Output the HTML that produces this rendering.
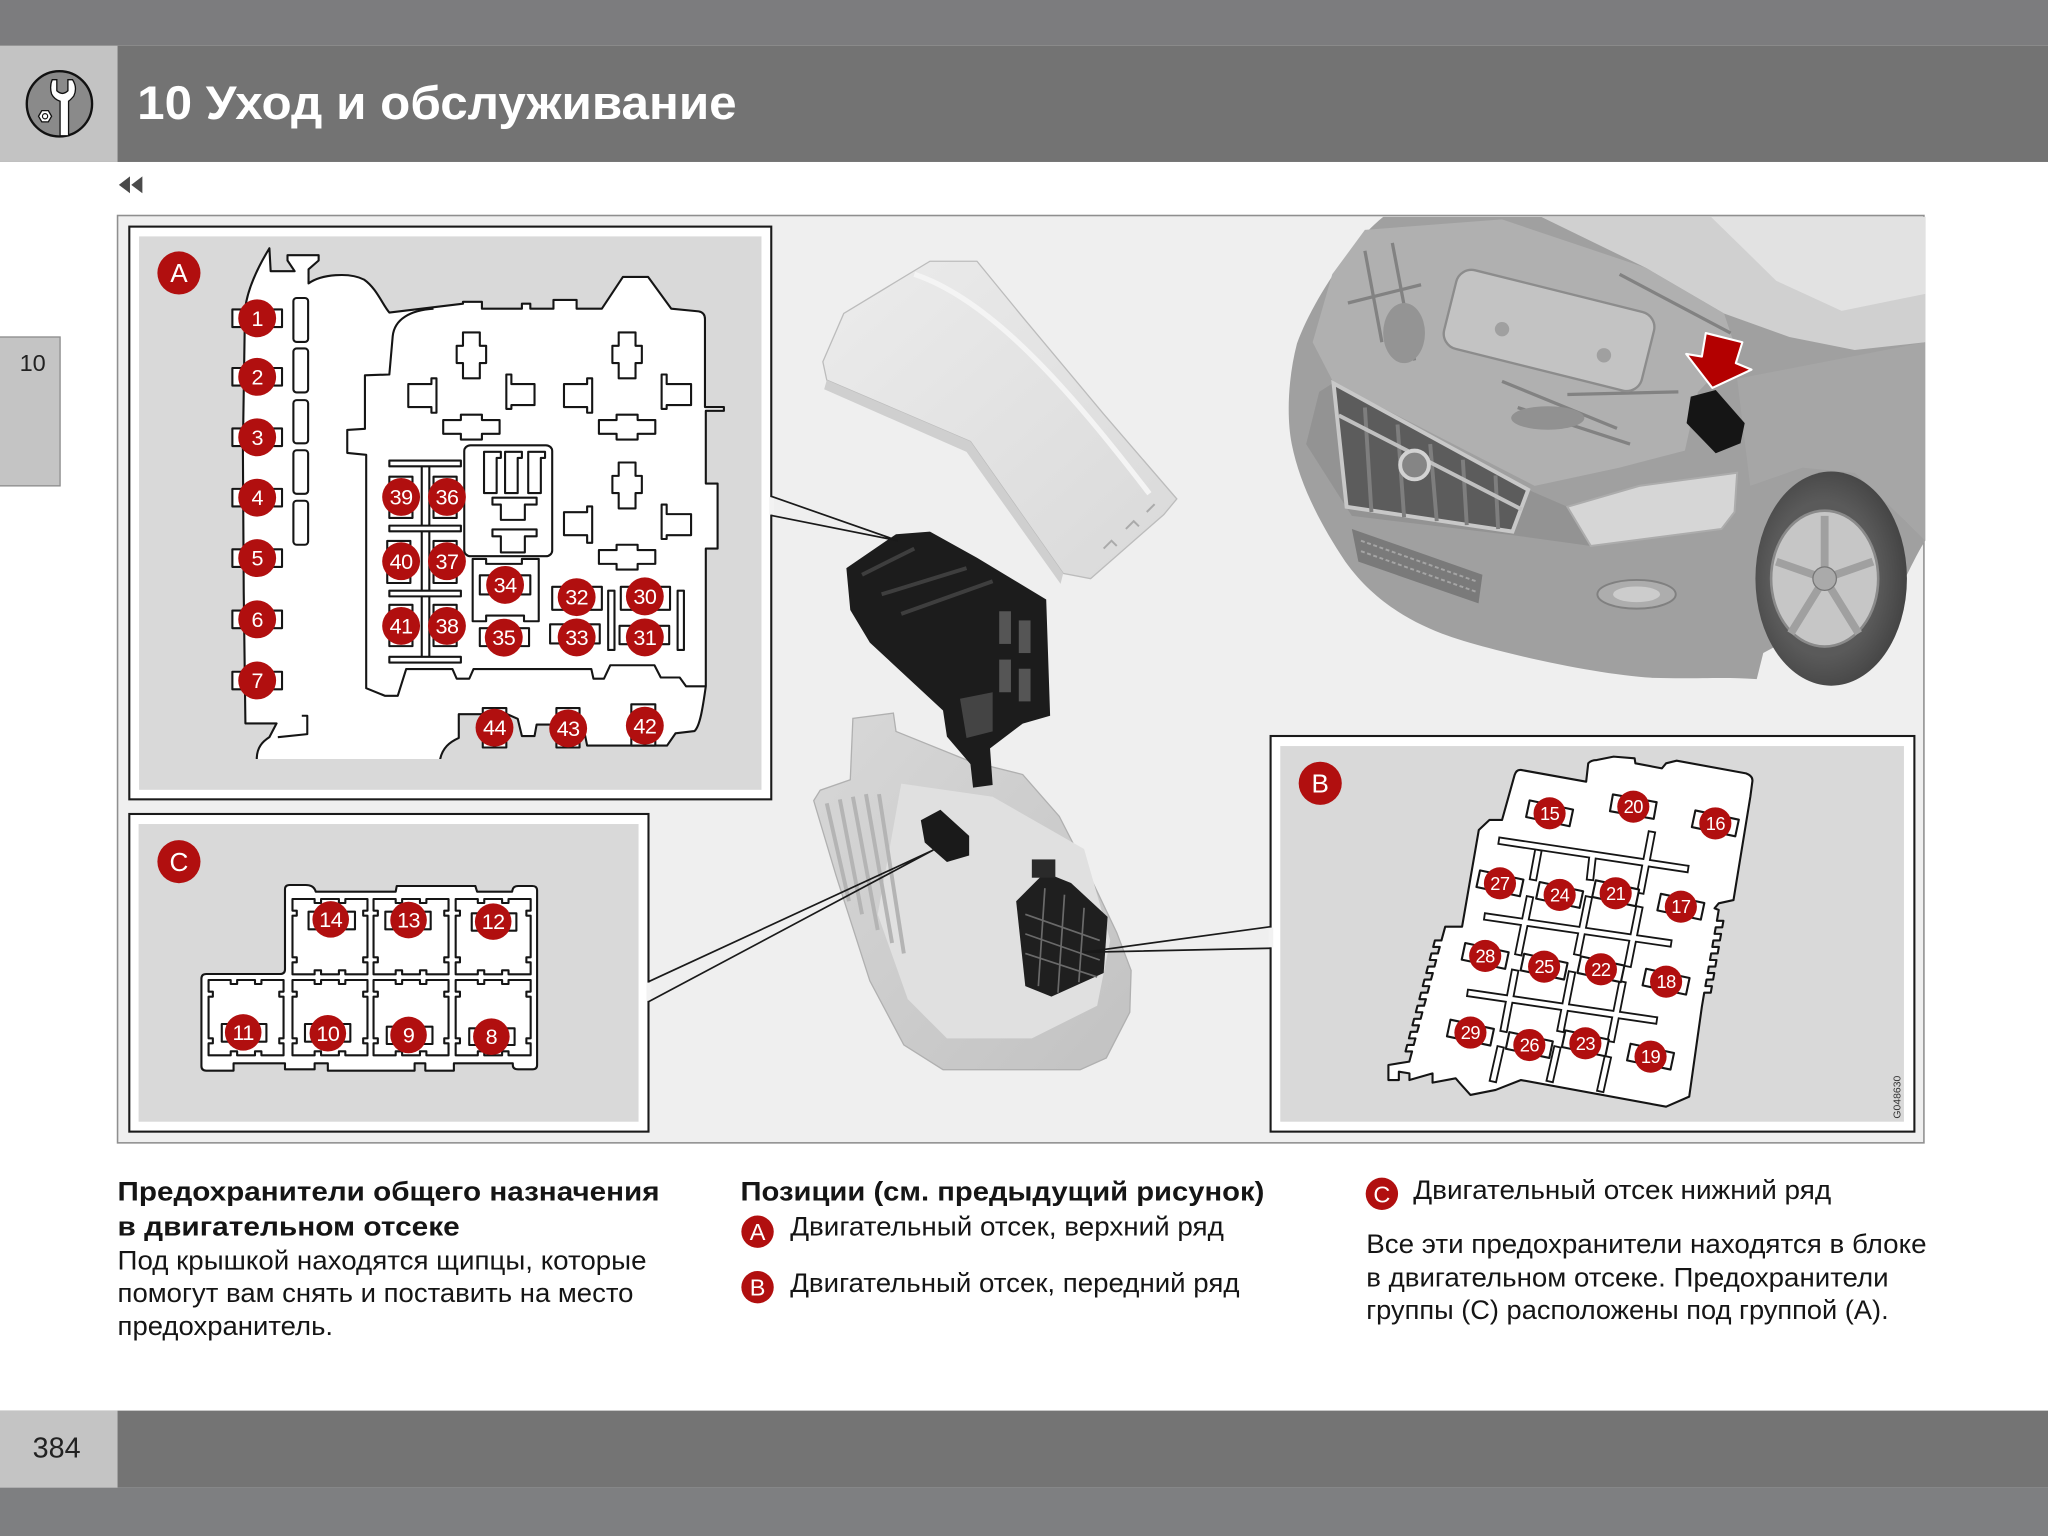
<!DOCTYPE html>
<html><head><meta charset="utf-8">
<style>
html,body{margin:0;padding:0;background:#fff;}
svg{display:block}
.o{fill:#fff;stroke:#151515;stroke-width:2.1;vector-effect:non-scaling-stroke;stroke-linejoin:round}
.l{fill:none;stroke:#151515;stroke-width:2.1;vector-effect:non-scaling-stroke;stroke-linejoin:round}
.rc{fill:#b10f0f}
.n{fill:#fff;font-family:"Liberation Sans",Arial,sans-serif;font-size:16.5px;text-anchor:middle;letter-spacing:-0.4px}
.nb{fill:#fff;font-family:"Liberation Sans",Arial,sans-serif;font-size:14px;text-anchor:middle;letter-spacing:-0.4px}
.L{fill:#fff;font-family:"Liberation Sans",Arial,sans-serif;font-size:20px;text-anchor:middle}
.t{fill:#151515;font-family:"Liberation Sans",Arial,sans-serif;font-size:20.5px}
.tb{fill:#151515;font-family:"Liberation Sans",Arial,sans-serif;font-size:20.5px;font-weight:bold}
.cn{fill:none;stroke:#1a1a1a;stroke-width:1.3}
</style></head><body>
<svg width="2048" height="1536" viewBox="0 0 1568 1176" xmlns="http://www.w3.org/2000/svg">
<defs>
<clipPath id="cA" clipPathUnits="userSpaceOnUse"><rect x="0" y="0" width="2000" height="1435"/></clipPath>
<path id="cell" class="o" d="M0,0 H62 V12 H80 V0 H130 V12 H148 V0 H210 V35 H198 V50 H210 V175 H198 V190 H210 V226 H148 V214 H130 V226 H80 V214 H62 V226 H0 V190 H12 V175 H0 V50 H12 V35 H0 Z"/>
<linearGradient id="gcov" x1="0" y1="0" x2="1" y2="1"><stop offset="0" stop-color="#ececec"/><stop offset="1" stop-color="#d9d9d9"/></linearGradient>
<linearGradient id="gbox" x1="0" y1="0" x2="1" y2="1"><stop offset="0" stop-color="#d8d8d8"/><stop offset="1" stop-color="#c2c2c2"/></linearGradient>
<radialGradient id="gtire" cx="0.45" cy="0.5" r="0.6"><stop offset="0.6" stop-color="#5a5a5a"/><stop offset="1" stop-color="#3e3e3e"/></radialGradient>
</defs>

<rect x="0" y="0" width="1568" height="1176" fill="#fff"/>

<!-- header -->
<rect x="0" y="0" width="1568" height="35" fill="#7c7c7e"/>
<rect x="0" y="35" width="1568" height="89" fill="#737373"/>
<rect x="0" y="35" width="90" height="89" fill="#c3c3c3"/>
<circle cx="45.5" cy="79.5" r="25" fill="#8a8a8a" stroke="#111" stroke-width="1.8"/>
<path d="M40,61 L43.5,61 L43.5,69.5 Q47.8,73.5 52,69.5 L52,61 L55.5,61 Q59.5,67 56.5,73.5 Q54,76.5 52.5,77.5 L52.5,104 L46,104 L46,77.5 Q41.5,76 39.5,72 Q37.8,66 40,61 Z" fill="#fff" stroke="#111" stroke-width="1"/>
<polygon points="29.5,89 32,84.7 37,84.7 39.5,89 37,93.3 32,93.3" fill="#fff" stroke="#111" stroke-width="1"/>
<circle cx="34.5" cy="89" r="2" fill="none" stroke="#111" stroke-width="0.9"/>
<text x="105" y="91" fill="#fff" font-family="Liberation Sans, Arial, sans-serif" font-size="36" font-weight="bold" textLength="459" lengthAdjust="spacingAndGlyphs">10 Уход и обслуживание</text>

<polygon points="91,141.5 99.5,135 99.5,148" fill="#4a4a4a"/>
<polygon points="100.5,141.5 109,135 109,148" fill="#4a4a4a"/>

<rect x="-2" y="258" width="48" height="114" fill="#c4c4c4" stroke="#8c8c8c" stroke-width="1"/>
<text x="15" y="284" fill="#222" font-family="Liberation Sans, Arial, sans-serif" font-size="18">10</text>

<rect x="90" y="165" width="1383" height="710" fill="#efefef" stroke="#8f8f8f" stroke-width="1.2"/>

<!-- ================= CAR ================= -->
<g>
<path d="M1059,166 C1035,185 1005,230 993,263 C986,290 985,320 989,340 C995,370 1010,400 1030,430 C1055,465 1090,482 1125,492 C1170,505 1230,517 1266,519 C1300,520 1320,518 1345,520 L1350,500 L1460,440 C1466,428 1470,420 1474,414 L1474,166 Z" fill="#a0a0a0"/>
<polygon points="1180,166 1474,166 1474,262 1420,268 1370,258 1320,240 1260,205" fill="#d0d0d0"/>
<polygon points="1310,166 1474,166 1474,225 1410,238 1360,215" fill="#e2e2e2"/>
<polygon points="1045,176 1150,168 1260,205 1320,240 1330,270 1300,300 1290,345 1240,358 1175,372 1021,293 1005,262 1020,210" fill="#b0b0b0"/>
<path d="M1045,192 L1058,262 M1066,186 L1083,276 M1032,232 L1088,218 M1150,292 L1238,328 M1162,312 L1248,340 M1200,302 L1285,300 M1240,210 L1325,255" stroke="#828282" stroke-width="2.5" fill="none"/>
<ellipse cx="1075" cy="255" rx="16" ry="23" fill="#949494"/>
<ellipse cx="1185" cy="320" rx="28" ry="9" fill="#919191"/>
<rect x="1108" y="222" width="156" height="62" rx="12" transform="rotate(14 1186 253)" fill="#c3c3c3" stroke="#8c8c8c" stroke-width="1.8"/>
<circle cx="1150" cy="252" r="5.5" fill="#a0a0a0"/>
<circle cx="1228" cy="272" r="5.5" fill="#a0a0a0"/>
<polygon points="1330,290 1474,262 1474,414 1460,400 1420,362 1380,358 1340,372" fill="#a6a6a6"/>
<polygon points="1010,300 1021,293 1170,375 1200,388 1218,418 1160,410 1035,395 1000,340" fill="#939393"/>
<polygon points="1021,293.5 1170,375 1158,407 1031,388" fill="#5c5c5c" stroke="#c8c8c8" stroke-width="3"/>
<path d="M1045,312 L1050,392 M1070,325 L1075,396 M1095,340 L1100,399 M1120,352 L1123,402 M1145,364 L1147,405" stroke="#7e7e7e" stroke-width="3"/>
<path d="M1025,318 L1165,390" stroke="#c0c0c0" stroke-width="3"/>
<circle cx="1083" cy="356" r="11" fill="#858585" stroke="#d2d2d2" stroke-width="3"/>
<polygon points="1200,388 1255,372 1330,362 1328,392 1318,405 1218,418" fill="#d6d6d6" stroke="#acacac" stroke-width="1.5"/>
<polygon points="1035,405 1135,440 1132,462 1040,430" fill="#7a7a7a"/>
<path d="M1042,414 L1130,445 M1042,422 L1130,453" stroke="#a5a5a5" stroke-width="1.5" stroke-dasharray="3 2"/>
<ellipse cx="1253" cy="455" rx="30" ry="11" fill="#adadad" stroke="#808080" stroke-width="1.5"/>
<ellipse cx="1253" cy="455" rx="18" ry="6" fill="#cccccc"/>
<ellipse cx="1402" cy="443" rx="58" ry="82" fill="url(#gtire)"/>
<ellipse cx="1397" cy="443" rx="41" ry="52" fill="#c6c6c6" stroke="#8a8a8a" stroke-width="2"/>
<path d="M1397,443 L1397,395 M1397,443 L1434,430 M1397,443 L1423,485 M1397,443 L1371,485 M1397,443 L1360,430" stroke="#a0a0a0" stroke-width="6"/>
<circle cx="1397" cy="443" r="9" fill="#aaa" stroke="#777" stroke-width="1"/>
<polygon points="1294.5,303.7 1313.6,298.6 1335.8,324 1332.6,339.4 1313.6,347 1291.3,324" fill="#151515"/>
<polygon points="1306,255 1334,262 1329,278 1341,283 1311,297 1291,271 1303,273" fill="#b30000" stroke="#fff" stroke-width="1.6" stroke-linejoin="round"/>
</g>

<!-- ================= CENTER FUSE BOX ================= -->
<g>
<polygon points="630,277 646,240 712,200 748,200 784,244 845,317 901,382 891,394 835,443 814,439 743,338 633,291" fill="url(#gcov)" stroke="#bcbcbc" stroke-width="1"/>
<polygon points="633,291 743,338 814,439 812,447 740,346 631,298" fill="#cfcfcf"/>
<path d="M700,210 C760,230 820,300 880,378" stroke="#f4f4f4" stroke-width="4" fill="none"/>
<path d="M845,420 l6,-6 l4,4 M862,405 l6,-6 l4,4 M878,392 l6,-6" stroke="#aaa" stroke-width="1.5" fill="none"/>
<polygon points="653,550 684,546 686,560 743,583 783,593 811,625 834,670 855,714 866,743 865,775 847,810 827,819 722,819 692,800 666,751 640,670 623,613 628,605 651,597" fill="url(#gbox)" stroke="#b0b0b0" stroke-width="1"/>
<polygon points="690,600 760,610 830,650 850,720 840,770 790,795 725,795 695,765 672,700" fill="#e0e0e0"/>
<path d="M633,615 L650,690 M643,612 L660,700 M653,610 L672,712 M663,608 L683,722 M673,608 L692,730" stroke="#b4b4b4" stroke-width="3" fill="none"/>
<polygon points="778,690 800,668 820,676 848,702 845,745 805,763 785,755" fill="#1f1f1f"/>
<path d="M785,700 L842,720 M785,715 L842,735 M785,730 L840,748 M800,680 L795,755 M815,685 L810,760 M830,695 L826,752" stroke="#6a6a6a" stroke-width="1.3" fill="none"/>
<rect x="790" y="658" width="18" height="14" fill="#2a2a2a"/>
<polygon points="705,628 720,620 742,640 742,655 725,660 708,645" fill="#1a1a1a"/>
<polygon points="648,435 686,409 712,407 748,427 801,459 804,548 783,554 758,573 760,601 745,603 743,585 725,564 722,544 666,492 651,467" fill="#1c1c1c"/>
<path d="M660,440 L700,420 M675,455 L740,435 M690,470 L760,445" stroke="#3e3e3e" stroke-width="3" fill="none"/>
<rect x="765" y="468" width="9" height="25" fill="#555"/><rect x="780" y="475" width="9" height="25" fill="#555"/><rect x="765" y="505" width="9" height="25" fill="#555"/><rect x="780" y="512" width="9" height="25" fill="#555"/>
<polygon points="735,535 760,530 760,560 740,565" fill="#444"/>
</g>

<!-- ================= PANEL A ================= -->
<rect x="99" y="173.5" width="491.5" height="438.5" fill="#fff" stroke="#1a1a1a" stroke-width="1.6"/>
<rect x="106.5" y="181" width="476.5" height="423.7" fill="#d9d9d9"/>
<g transform="matrix(0.3222 0 0 0.2929 91.88 160.78)">
<path class="o" clip-path="url(#cA)" d="M325,1500 L325,1432 C326,1405 338,1390 355,1378 L372,1342 L298,1342 L294,1000 L292,620 L297,260 C303,205 330,145 355,100 L358,160 L415,160 L398,132 L398,118 L472,118 L472,132 L448,155 L448,192 C478,168 545,162 580,182 C610,205 625,250 640,268 L815,245 L815,240 L860,240 L860,258 L955,258 L955,245 L975,245 L975,258 L1030,258 L1030,235 L1085,235 L1085,258 L1145,258 L1195,175 L1255,175 L1310,258 L1375,265 Q1390,268 1390,285 L1390,515 L1435,515 L1435,525 L1392,525 L1392,715 L1420,715 L1420,885 L1392,885 L1392,1245 C1385,1300 1378,1350 1365,1362 L1320,1368 L1300,1400 L1110,1400 L1100,1345 L990,1345 L985,1375 L955,1375 L945,1330 L920,1318 L805,1318 L805,1380 C785,1390 765,1405 760,1440 L760,1500 Z"/>
<path class="l" d="M745,258 C690,262 652,285 648,330 L640,430 L582,432 L582,572 L540,575 L540,635 L585,640 L585,1250 L630,1270 L660,1270 L680,1200 L790,1200 L800,1225 L830,1225 L840,1200 L1120,1200 L1125,1225 L1150,1225 L1165,1190 L1270,1190 L1285,1222 L1330,1222 L1345,1245 L1392,1245"/>
<path class="l" d="M432,1322 H445 V1370 L375,1378"/>
<rect class="o" x="412" y="230" width="35" height="115" rx="8"/>
<rect class="o" x="412" y="362" width="35" height="115" rx="8"/>
<rect class="o" x="412" y="497" width="35" height="113" rx="8"/>
<rect class="o" x="412" y="628" width="35" height="114" rx="8"/>
<rect class="o" x="412" y="760" width="35" height="115" rx="8"/>
<path class="o" d="M815,320 H855 V355 H870 V400 H855 V440 H815 V400 H800 V355 H815 Z"/>
<path class="o" d="M1185,320 H1225 V355 H1240 V400 H1225 V440 H1185 V400 H1170 V355 H1185 Z"/>
<path class="o" d="M1185,660 H1225 V695 H1240 V740 H1225 V780 H1185 V740 H1170 V695 H1185 Z"/>
<path class="o" d="M768,549 H810 V535 H860 V549 H902 V585 H860 V600 H810 V585 H768 Z"/>
<path class="o" d="M1138,549 H1180 V535 H1230 V549 H1272 V585 H1230 V600 H1180 V585 H1138 Z"/>
<path class="o" d="M1138,889 H1180 V875 H1230 V889 H1272 V925 H1230 V940 H1180 V925 H1138 Z"/>
<path class="o" d="M685,455 H740 V440 H752 V530 H740 V515 H685 Z"/>
<path class="o" d="M1055,455 H1110 V440 H1122 V530 H1110 V515 H1055 Z"/>
<path class="o" d="M1055,790 H1110 V775 H1122 V870 H1110 V850 H1055 Z"/>
<path class="o" d="M918,430 H930 V455 H985 V510 H930 V520 H918 Z"/>
<path class="o" d="M1287,430 H1299 V455 H1357 V510 H1299 V520 H1287 Z"/>
<path class="o" d="M1287,770 H1299 V795 H1357 V850 H1299 V860 H1287 Z"/>
<rect class="o" x="818" y="615" width="209" height="290" rx="15"/>
<path class="o" d="M865,632 H905 V648 H895 V740 H865 Z"/>
<path class="o" d="M915,632 H955 V648 H945 V740 H915 Z"/>
<path class="o" d="M970,632 H1010 V648 H1000 V740 H970 Z"/>
<path class="o" d="M885,752 H990 V770 H962 V810 H905 V770 H885 Z"/>
<path class="o" d="M885,835 H990 V853 H962 V895 H905 V853 H885 Z"/>
<rect class="o" x="717" y="662" width="18" height="515"/>
<rect class="o" x="640" y="655" width="170" height="15"/>
<rect class="o" x="640" y="825" width="170" height="15"/>
<rect class="o" x="640" y="995" width="170" height="15"/>
<rect class="o" x="640" y="1168" width="170" height="15"/>
<rect class="o" x="640" y="697" width="55" height="108"/>
<rect class="o" x="745" y="697" width="55" height="108"/>
<rect class="o" x="635" y="865" width="55" height="110"/>
<rect class="o" x="745" y="865" width="55" height="110"/>
<rect class="o" x="640" y="1032" width="55" height="108"/>
<rect class="o" x="745" y="1032" width="55" height="108"/>
<path class="o" d="M838,912 H870 V925 H955 V912 H995 V1075 H960 V1060 H870 V1075 H838 Z"/>
<rect class="o" x="855" y="955" width="120" height="50"/>
<rect class="o" x="855" y="1093" width="117" height="47"/>
<rect class="o" x="1027" y="985" width="118" height="60"/>
<rect class="o" x="1022" y="1083" width="118" height="50"/>
<rect class="o" x="1190" y="985" width="117" height="60"/>
<rect class="o" x="1187" y="1087" width="118" height="48"/>
<rect class="o" x="1160" y="995" width="15" height="155"/>
<rect class="o" x="1325" y="995" width="15" height="155"/>
<rect class="o" x="862" y="1302" width="56" height="103"/>
<rect class="o" x="1037" y="1302" width="55" height="103"/>
<rect class="o" x="1215" y="1292" width="57" height="108"/>
<rect class="o" x="267" y="260" width="118" height="46"/>
<rect class="o" x="267" y="413" width="118" height="46"/>
<rect class="o" x="267" y="571" width="118" height="46"/>
<rect class="o" x="267" y="729" width="118" height="46"/>
<rect class="o" x="267" y="887" width="118" height="46"/>
<rect class="o" x="267" y="1047" width="118" height="46"/>
<rect class="o" x="267" y="1207" width="118" height="46"/>
</g>
<g>
<circle class="rc" cx="137" cy="209" r="16.5"/><text class="L" x="137" y="216">A</text>
<circle class="rc" cx="196.9" cy="243.7" r="14.5"/><text class="n" x="196.9" y="249.5">1</text>
<circle class="rc" cx="196.9" cy="288.5" r="14.5"/><text class="n" x="196.9" y="294.3">2</text>
<circle class="rc" cx="196.9" cy="334.8" r="14.5"/><text class="n" x="196.9" y="340.6">3</text>
<circle class="rc" cx="196.9" cy="381" r="14.5"/><text class="n" x="196.9" y="386.8">4</text>
<circle class="rc" cx="196.9" cy="427.3" r="14.5"/><text class="n" x="196.9" y="433.1">5</text>
<circle class="rc" cx="196.9" cy="474.2" r="14.5"/><text class="n" x="196.9" y="480">6</text>
<circle class="rc" cx="196.9" cy="521" r="14.5"/><text class="n" x="196.9" y="526.8">7</text>
<circle class="rc" cx="307.1" cy="380.5" r="14.5"/><text class="n" x="307.1" y="386.3">39</text>
<circle class="rc" cx="342.2" cy="380.5" r="14.5"/><text class="n" x="342.2" y="386.3">36</text>
<circle class="rc" cx="307.1" cy="429.7" r="14.5"/><text class="n" x="307.1" y="435.5">40</text>
<circle class="rc" cx="342.2" cy="429.7" r="14.5"/><text class="n" x="342.2" y="435.5">37</text>
<circle class="rc" cx="307.1" cy="479.2" r="14.5"/><text class="n" x="307.1" y="485">41</text>
<circle class="rc" cx="342.2" cy="479.2" r="14.5"/><text class="n" x="342.2" y="485">38</text>
<circle class="rc" cx="386.7" cy="447.8" r="14.5"/><text class="n" x="386.7" y="453.6">34</text>
<circle class="rc" cx="385.7" cy="488.2" r="14.5"/><text class="n" x="385.7" y="494">35</text>
<circle class="rc" cx="441.5" cy="457.2" r="14.5"/><text class="n" x="441.5" y="463">32</text>
<circle class="rc" cx="441.5" cy="488" r="14.5"/><text class="n" x="441.5" y="493.8">33</text>
<circle class="rc" cx="493.7" cy="456.6" r="14.5"/><text class="n" x="493.7" y="462.4">30</text>
<circle class="rc" cx="493.7" cy="488" r="14.5"/><text class="n" x="493.7" y="493.8">31</text>
<circle class="rc" cx="378.6" cy="557.1" r="14.5"/><text class="n" x="378.6" y="562.9">44</text>
<circle class="rc" cx="435" cy="557.7" r="14.5"/><text class="n" x="435" y="563.5">43</text>
<circle class="rc" cx="493.7" cy="555.6" r="14.5"/><text class="n" x="493.7" y="561.4">42</text>
</g>

<!-- ================= PANEL C ================= -->
<rect x="99" y="623.2" width="397.5" height="243.2" fill="#fff" stroke="#1a1a1a" stroke-width="1.6"/>
<rect x="106.1" y="630.9" width="382.8" height="227.9" fill="#d9d9d9"/>
<g transform="matrix(0.2734 0 0 0.2552 91.88 612.5)">
<path class="o" d="M475,255 L520,255 C535,255 545,262 548,275 L772,275 L775,258 L995,258 L1000,275 L1098,275 C1100,262 1105,258 1115,258 L1155,258 Q1168,258 1168,272 L1168,795 Q1168,808 1155,808 L1115,808 Q1100,808 1100,795 L1100,790 L935,790 L935,812 L855,812 L855,790 L825,790 L825,812 L582,812 L582,790 L545,790 L545,808 L462,808 L462,790 L318,790 L318,812 L242,812 Q228,812 228,798 L228,536 Q228,522 242,522 L448,522 Q462,522 462,508 L462,268 Q462,255 475,255 Z"/>
<use href="#cell" x="483" y="297"/>
<use href="#cell" x="710" y="297"/>
<use href="#cell" x="940" y="297"/>
<use href="#cell" x="248" y="540"/>
<use href="#cell" x="483" y="540"/>
<use href="#cell" x="710" y="540"/>
<use href="#cell" x="940" y="540"/>
<rect class="o" x="528" y="335" width="130" height="53"/>
<rect class="o" x="743" y="335" width="127" height="53"/>
<rect class="o" x="985" y="340" width="125" height="52"/>
<rect class="o" x="285" y="672" width="125" height="53"/>
<rect class="o" x="518" y="672" width="127" height="53"/>
<rect class="o" x="747" y="680" width="128" height="52"/>
<rect class="o" x="978" y="685" width="127" height="50"/>
</g>
<g>
<circle class="rc" cx="137" cy="659.7" r="16.5"/><text class="L" x="137" y="666.7">C</text>
<circle class="rc" cx="253.2" cy="703.9" r="14"/><text class="n" x="253.2" y="709.7">14</text>
<circle class="rc" cx="312.8" cy="704.4" r="14"/><text class="n" x="312.8" y="710.2">13</text>
<circle class="rc" cx="377.6" cy="705.6" r="14"/><text class="n" x="377.6" y="711.4">12</text>
<circle class="rc" cx="186.2" cy="790.4" r="14"/><text class="n" x="186.2" y="796.2">11</text>
<circle class="rc" cx="251" cy="791.1" r="14"/><text class="n" x="251" y="796.9">10</text>
<circle class="rc" cx="312.8" cy="792.4" r="14"/><text class="n" x="312.8" y="798.2">9</text>
<circle class="rc" cx="376.2" cy="793.7" r="14"/><text class="n" x="376.2" y="799.5">8</text>
</g>

<!-- ================= PANEL B ================= -->
<rect x="972.8" y="563.5" width="492.9" height="302.9" fill="#fff" stroke="#1a1a1a" stroke-width="1.6"/>
<rect x="980.2" y="571.2" width="477.5" height="287.6" fill="#d9d9d9"/>
<path class="o" d="M1159.6,593.4 Q1161,589 1164.5,589.5 L1214.4,598.5 L1216,584.4 Q1218,582 1222.5,581.9 L1235.4,579.3 L1251.5,580.6 L1252.1,584.4 L1272.4,588.3 L1275.6,584.4 L1283.7,582.4 L1336.8,592.1 Q1342,594 1341.7,598 L1340.1,610 L1327.2,689.1 L1315.9,691.6 L1312.7,695.4 L1315.9,696.7 L1314.5,705 L1319.5,705 L1318.6,710 L1313.6,710 L1312.7,715 L1317.7,715 L1316.8,720 L1311.8,720 L1311,725 L1316,725 L1315.1,730 L1310.1,730 L1309.2,735 L1314.2,735 L1313.3,740 L1308.3,740 L1307.5,745 L1312.5,745 L1311.6,750 L1306.6,750 L1305.7,755 L1310.7,755 L1309.8,760 L1304.8,760 L1303,770.7 L1293.3,839.6 L1275.6,847.3 L1164.5,826.9 L1145.1,834.5 L1125.8,838.3 L1117.8,829.4 L1114.5,825.6 L1096.8,828.9 L1096.8,821.8 L1079.1,826.9 L1079.1,821.8 L1071,820.5 L1071,826.9 L1063,826.9 L1063,815.4 L1079,812.8 L1081.1,805 L1076.1,805 L1077.4,800 L1082.4,800 L1083.7,795 L1078.7,795 L1080,790 L1085,790 L1086.4,785 L1081.4,785 L1082.7,780 L1087.7,780 L1089,775 L1084,775 L1085.3,770 L1090.3,770 L1091.7,765 L1086.7,765 L1088,760 L1093,760 L1094.3,755 L1089.3,755 L1090.6,750 L1095.6,750 L1097,745 L1092,745 L1093.3,740 L1098.3,740 L1099.6,735 L1094.6,735 L1095.9,730 L1100.9,730 L1102.3,725 L1097.3,725 L1098.6,720 L1103.6,720 L1106.5,709.5 L1119.4,709.5 L1132.2,635.5 L1140.3,627.8 L1150,627.8 Z"/>
<g stroke="#151515" stroke-width="6.4" stroke-linecap="square" fill="none">
<path d="M1150,644 L1290,665 M1139,702 L1277,722 M1126,760.5 L1266,781 M1264.3,639.3 L1256.3,681.4 M1177.4,653.3 L1174.1,671.2 M1219.3,655.9 L1217.6,671.2 M1170.9,689 L1162.9,728.6 M1216,689 L1208,728.6 M1254.7,696.7 L1246.6,737.5 M1159.6,745.2 L1151.6,787.3 M1203.1,746.5 L1195.1,787.3 M1241.8,754.1 L1233.7,795 M1148.4,803.9 L1143.5,825.6 M1191.9,803.9 L1187,825.6 M1230.5,811.5 L1225.7,833.2"/>
</g>
<g stroke="#fff" stroke-width="3.6" stroke-linecap="square" fill="none">
<path d="M1150,644 L1290,665 M1139,702 L1277,722 M1126,760.5 L1266,781 M1264.3,639.3 L1256.3,681.4 M1177.4,653.3 L1174.1,671.2 M1219.3,655.9 L1217.6,671.2 M1170.9,689 L1162.9,728.6 M1216,689 L1208,728.6 M1254.7,696.7 L1246.6,737.5 M1159.6,745.2 L1151.6,787.3 M1203.1,746.5 L1195.1,787.3 M1241.8,754.1 L1233.7,795 M1148.4,803.9 L1143.5,825.6 M1191.9,803.9 L1187,825.6 M1230.5,811.5 L1225.7,833.2"/>
</g>
<g>
<rect class="o" x="-17" y="-6.5" width="34" height="13" transform="translate(1186.4 622.7) rotate(12)"/>
<rect class="o" x="-17" y="-6.5" width="34" height="13" transform="translate(1250.5 617.6) rotate(10)"/>
<rect class="o" x="-17" y="-6.5" width="34" height="13" transform="translate(1313.3 630.4) rotate(12)"/>
<rect class="o" x="-17" y="-6.5" width="34" height="13" transform="translate(1148.4 676.3) rotate(12)"/>
<rect class="o" x="-17" y="-6.5" width="34" height="13" transform="translate(1194.1 685.2) rotate(12)"/>
<rect class="o" x="-17" y="-6.5" width="34" height="13" transform="translate(1237 683.9) rotate(12)"/>
<rect class="o" x="-17" y="-6.5" width="34" height="13" transform="translate(1286.9 694.2) rotate(12)"/>
<rect class="o" x="-17" y="-6.5" width="34" height="13" transform="translate(1137.1 731.9) rotate(12)"/>
<rect class="o" x="-17" y="-6.5" width="34" height="13" transform="translate(1182.2 740.1) rotate(12)"/>
<rect class="o" x="-17" y="-6.5" width="34" height="13" transform="translate(1225.7 742.1) rotate(12)"/>
<rect class="o" x="-17" y="-6.5" width="34" height="13" transform="translate(1275.6 751.6) rotate(12)"/>
<rect class="o" x="-17" y="-6.5" width="34" height="13" transform="translate(1125.8 790.6) rotate(12)"/>
<rect class="o" x="-17" y="-6.5" width="34" height="13" transform="translate(1170.9 800.1) rotate(12)"/>
<rect class="o" x="-17" y="-6.5" width="34" height="13" transform="translate(1213.8 798.8) rotate(12)"/>
<rect class="o" x="-17" y="-6.5" width="34" height="13" transform="translate(1263.7 809) rotate(12)"/>
</g>
<g>
<circle class="rc" cx="1010.8" cy="599.7" r="16.5"/><text class="L" x="1010.8" y="606.7">B</text>
<circle class="rc" cx="1186.4" cy="622.7" r="12.3"/><text class="nb" x="1186.4" y="627.7">15</text>
<circle class="rc" cx="1250.5" cy="617.6" r="12.3"/><text class="nb" x="1250.5" y="622.6">20</text>
<circle class="rc" cx="1313.3" cy="630.4" r="12.3"/><text class="nb" x="1313.3" y="635.4">16</text>
<circle class="rc" cx="1148.4" cy="676.3" r="12.3"/><text class="nb" x="1148.4" y="681.3">27</text>
<circle class="rc" cx="1194.1" cy="685.2" r="12.3"/><text class="nb" x="1194.1" y="690.2">24</text>
<circle class="rc" cx="1237" cy="683.9" r="12.3"/><text class="nb" x="1237" y="688.9">21</text>
<circle class="rc" cx="1286.9" cy="694.2" r="12.3"/><text class="nb" x="1286.9" y="699.2">17</text>
<circle class="rc" cx="1137.1" cy="731.9" r="12.3"/><text class="nb" x="1137.1" y="736.9">28</text>
<circle class="rc" cx="1182.2" cy="740.1" r="12.3"/><text class="nb" x="1182.2" y="745.1">25</text>
<circle class="rc" cx="1225.7" cy="742.1" r="12.3"/><text class="nb" x="1225.7" y="747.1">22</text>
<circle class="rc" cx="1275.6" cy="751.6" r="12.3"/><text class="nb" x="1275.6" y="756.6">18</text>
<circle class="rc" cx="1125.8" cy="790.6" r="12.3"/><text class="nb" x="1125.8" y="795.6">29</text>
<circle class="rc" cx="1170.9" cy="800.1" r="12.3"/><text class="nb" x="1170.9" y="805.1">26</text>
<circle class="rc" cx="1213.8" cy="798.8" r="12.3"/><text class="nb" x="1213.8" y="803.8">23</text>
<circle class="rc" cx="1263.7" cy="809" r="12.3"/><text class="nb" x="1263.7" y="814">19</text>
</g>
<text x="0" y="0" transform="translate(1455 840) rotate(-90)" fill="#333" font-family="Liberation Sans, Arial, sans-serif" font-size="8" text-anchor="middle">G048630</text>

<!-- ================= CONNECTORS ================= -->
<rect x="589" y="380.6" width="3.5" height="13.4" fill="#f2f2f2"/>
<polyline class="cn" points="590.5,380 687.5,414 590.5,394.6"/>
<rect x="495" y="752.3" width="3.5" height="14" fill="#f2f2f2"/>
<polyline class="cn" points="496.5,751.6 714.6,650.8 496.5,767"/>
<rect x="971.3" y="710.2" width="3.5" height="15.1" fill="#f2f2f2"/>
<polyline class="cn" points="972.8,709.5 829.4,729.1 972.8,726"/>

<!-- ================= TEXT ================= -->
<text class="tb" x="90" y="919" textLength="415" lengthAdjust="spacingAndGlyphs">Предохранители общего назначения</text>
<text class="tb" x="90" y="946" textLength="262" lengthAdjust="spacingAndGlyphs">в двигательном отсеке</text>
<text class="t" x="90" y="972" textLength="405" lengthAdjust="spacingAndGlyphs">Под крышкой находятся щипцы, которые</text>
<text class="t" x="90" y="997" textLength="395" lengthAdjust="spacingAndGlyphs">помогут вам снять и поставить на место</text>
<text class="t" x="90" y="1022" textLength="165" lengthAdjust="spacingAndGlyphs">предохранитель.</text>

<text class="tb" x="567" y="919" textLength="401" lengthAdjust="spacingAndGlyphs">Позиции (см. предыдущий рисунок)</text>
<circle class="rc" cx="580" cy="943" r="12.4"/>
<text x="580" y="949.5" fill="#fff" font-family="Liberation Sans, Arial, sans-serif" font-size="18" text-anchor="middle">A</text>
<text class="t" x="605" y="946" textLength="332" lengthAdjust="spacingAndGlyphs">Двигательный отсек, верхний ряд</text>
<circle class="rc" cx="580" cy="985.5" r="12.4"/>
<text x="580" y="992" fill="#fff" font-family="Liberation Sans, Arial, sans-serif" font-size="18" text-anchor="middle">B</text>
<text class="t" x="605" y="989" textLength="344" lengthAdjust="spacingAndGlyphs">Двигательный отсек, передний ряд</text>

<circle class="rc" cx="1058" cy="914" r="12.4"/>
<text x="1058" y="920.5" fill="#fff" font-family="Liberation Sans, Arial, sans-serif" font-size="18" text-anchor="middle">C</text>
<text class="t" x="1082" y="918" textLength="320" lengthAdjust="spacingAndGlyphs">Двигательный отсек нижний ряд</text>
<text class="t" x="1046" y="959.5" textLength="429" lengthAdjust="spacingAndGlyphs">Все эти предохранители находятся в блоке</text>
<text class="t" x="1046" y="985" textLength="400" lengthAdjust="spacingAndGlyphs">в двигательном отсеке. Предохранители</text>
<text class="t" x="1046" y="1010" textLength="400" lengthAdjust="spacingAndGlyphs">группы (C) расположены под группой (A).</text>

<!-- ================= FOOTER ================= -->
<rect x="0" y="1080" width="1568" height="59" fill="#747474"/>
<rect x="0" y="1080" width="90" height="59" fill="#c4c4c4"/>
<rect x="0" y="1139" width="1568" height="37" fill="#7e7f81"/>
<text x="25" y="1116" fill="#222" font-family="Liberation Sans, Arial, sans-serif" font-size="22">384</text>
</svg>
</body></html>
